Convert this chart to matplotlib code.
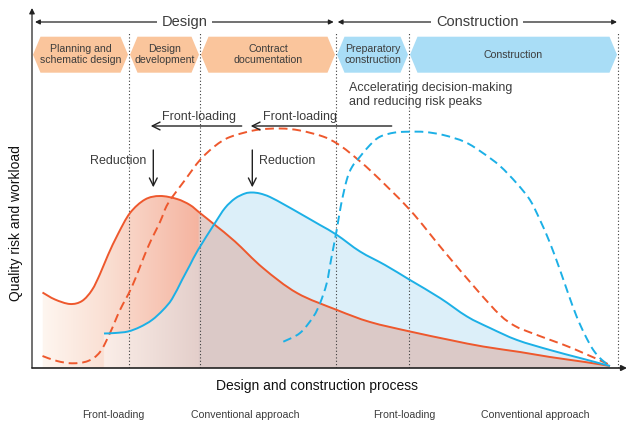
import matplotlib
matplotlib.use('Agg')
import matplotlib.pyplot as plt
import numpy as np
from matplotlib.patches import Polygon, PathPatch
from matplotlib.path import Path

plt.rcParams['font.family'] = ['Liberation Sans', 'DejaVu Sans']

# process position (x) and quality risk / workload level (y)
design_front_x = [10.5, 23, 38, 50, 60, 68, 76, 86, 98, 113, 128, 145, 158, 168, 183, 203,
                  231, 265, 305, 338, 378, 418, 451, 488, 518, 553, 578]
design_front_y = [75.5, 68.5, 64, 67, 78, 94, 113, 134, 155, 168.5, 172, 169, 163, 155, 143,
                  126.5, 100, 75, 58, 46, 36.5, 28, 21.5, 16, 11, 6, 2]

design_conv_x = [10.5, 25, 40, 56, 68, 78, 88, 100, 116, 128, 136, 153, 168, 183, 198, 224,
                 248, 268, 291, 305, 318, 341, 378, 411, 445, 468, 483, 501, 541, 578]
design_conv_y = [12, 7, 4.7, 7, 16, 35, 58, 81.5, 121, 146, 164.5, 188, 208, 222, 231, 238,
                 239.5, 237.5, 231.5, 224.5, 215, 195, 158, 118, 78, 53, 42, 34.5, 19.5, 3]

constr_front_x = [72, 83, 96, 108, 120, 131, 140, 150, 158, 166, 183, 193, 203, 213, 220, 228,
                  238, 253, 268, 288, 305, 328, 353, 378, 408, 435, 458, 485, 518, 548, 578]
constr_front_y = [34.5, 35, 36.5, 41, 48, 58, 69, 88, 103, 118, 145, 160, 169.5, 174.5, 175.5,
                  174.5, 171, 163, 154.5, 143, 133, 116.5, 103, 88, 70, 51.5, 40, 28, 18, 10, 2]

constr_conv_x = [251.3, 268, 281.3, 288, 294.7, 299, 304.7, 309, 314.7, 320, 328, 338, 348, 363,
                 378, 393, 411.3, 433, 451.3, 468, 484.7, 498, 508, 518, 528, 536, 544.7, 553,
                 561.3, 570, 578]
constr_conv_y = [26.3, 35, 51.3, 64.7, 84.7, 108, 138, 163, 188, 201, 211.3, 223, 231.3, 235.5,
                 236.3, 236, 233, 226, 214.7, 202, 184.7, 168, 148, 125, 98, 75, 51.3, 33, 18, 8, 2]

# phase boundaries along the process axis
phase_edges = [0, 97, 168, 304, 377, 586]
phase_names = ['Planning and\nschematic design', 'Design\ndevelopment', 'Contract\ndocumentation',
               'Preparatory\nconstruction', 'Construction']
phase_colors = ['#fac59c', '#fac59c', '#fac59c', '#a9ddf6', '#a9ddf6']

ORANGE = '#ee582d'
BLUE = '#1cb0e6'
GREY = '#3c3c3c'


def smooth_path(x, y):
    # bezier segments through the read points (catmull-rom tangents)
    p = np.column_stack([x, y]).astype(float)
    q = np.vstack([p[0], p, p[-1]])
    verts, codes = [p[0]], [Path.MOVETO]
    for i in range(1, len(q) - 2):
        c1 = q[i] + (q[i + 1] - q[i - 1]) / 6
        c2 = q[i + 1] - (q[i + 2] - q[i]) / 6
        verts += [c1, c2, q[i + 1]]
        codes += [Path.CURVE4] * 3
    return Path(verts, codes)


fig = plt.figure(figsize=(6.27, 4.25), dpi=100)
ax = fig.add_axes([32 / 627, 57 / 425, 595 / 627, 360 / 425])
ax.set_xlim(0, 595)
ax.set_ylim(0, 360)
ax.axis('off')

paths = {
    'df': smooth_path(design_front_x, design_front_y),
    'dc': smooth_path(design_conv_x, design_conv_y),
    'cf': smooth_path(constr_front_x, constr_front_y),
    'cc': smooth_path(constr_conv_x, constr_conv_y),
}

# shaded areas under the solid curves
xs = np.linspace(0, 595, 1190)
ys = np.linspace(0, 360, 720)
X, Y = np.meshgrid(xs, ys)
fo = paths['df'].to_polygons(closed_only=False)[0]
fb = paths['cf'].to_polygons(closed_only=False)[0]
top_o = np.interp(xs, fo[:, 0], fo[:, 1])
top_b = np.interp(xs, fb[:, 0], fb[:, 1])
in_o = (X >= design_front_x[0]) & (X <= design_front_x[-1]) & (Y <= top_o[None, :])
in_b = (X >= constr_front_x[0]) & (X <= constr_front_x[-1]) & (Y <= top_b[None, :])


def ramp(stops, cols):
    cols = np.array(cols, dtype=float) / 255
    return np.stack([np.interp(xs, stops, cols[:, k]) for k in range(3)], axis=1)


col_o = ramp([10.5, 72, 166, 168, 595],
             [(254, 246, 240), (250, 224, 212), (245, 180, 160), (226, 206, 202), (226, 206, 202)])
col_ob = ramp([72, 166, 168, 595],
              [(251, 238, 232), (228, 207, 203), (219, 201, 199), (219, 201, 199)])
col_b = np.array([220, 239, 250]) / 255

img = np.zeros((len(ys), len(xs), 4))
img[..., :3] = np.where(in_b[..., None], col_b, 1.0)
img[..., :3] = np.where(in_o[..., None], col_o[None, :, :], img[..., :3])
img[..., :3] = np.where((in_o & in_b)[..., None], col_ob[None, :, :], img[..., :3])
img[..., 3] = (in_o | in_b).astype(float)
ax.imshow(img, extent=(0, 595, 0, 360), origin='lower', aspect='auto', zorder=1,
          interpolation='bilinear')

# phase boundaries
for xe in phase_edges[1:]:
    ax.plot([xe, xe], [0, 336], color=GREY, lw=0.8, ls=(0, (1, 2)), zorder=2)

# curves
lw = 1.4
for key, col, ls in [('df', ORANGE, '-'), ('dc', ORANGE, (0, (4.5, 2.5))),
                     ('cf', BLUE, '-'), ('cc', BLUE, (0, (4.5, 2.5)))]:
    ax.add_patch(PathPatch(paths[key], fill=False, edgecolor=col, lw=lw, linestyle=ls,
                           capstyle='butt', zorder=4))

# axes with arrows
ax.annotate('', xy=(0, 360), xytext=(0, 0), annotation_clip=False,
            arrowprops=dict(arrowstyle='-|>', color='#222222', lw=0.9, mutation_scale=8,
                            shrinkA=0, shrinkB=0), zorder=5)
ax.annotate('', xy=(595, 0), xytext=(0, 0), annotation_clip=False,
            arrowprops=dict(arrowstyle='-|>', color='#222222', lw=1.2, mutation_scale=8,
                            shrinkA=0, shrinkB=0), zorder=5)

# phase boxes
top, bot, d = 331.3, 295.3, 7.5
for i, name in enumerate(phase_names):
    l, r = phase_edges[i] + 1, phase_edges[i + 1] - 1
    m = (top + bot) / 2
    ax.add_patch(Polygon([(l, m), (l + d, top), (r - d, top), (r, m), (r - d, bot), (l + d, bot)],
                         closed=True, facecolor=phase_colors[i], edgecolor='none', zorder=3))
    ax.text((l + r) / 2, m, name, ha='center', va='center', fontsize=7.6, color=GREY,
            linespacing=1.1, zorder=4)

# design / construction spans
for (a, b, label) in [(3, 301.7, 'Design'), (305.7, 585, 'Construction')]:
    ax.annotate('', xy=(a, 346), xytext=(b, 346), annotation_clip=False,
                arrowprops=dict(arrowstyle='<|-|>', color='#222222', lw=0.9, mutation_scale=7,
                                shrinkA=0, shrinkB=0))
    ax.text((a + b) / 2, 346, label, ha='center', va='center', fontsize=10.5, color=GREY,
            bbox=dict(facecolor='white', edgecolor='none', pad=3.5))

# front-loading arrows
for (a, b, xc) in [(209.7, 118.7, 167), (359.7, 218.7, 268.5)]:
    ax.annotate('', xy=(b, 242), xytext=(a, 242),
                arrowprops=dict(arrowstyle='->', color='#222222', lw=1.0, mutation_scale=14,
                                shrinkA=0, shrinkB=0), zorder=5)
    ax.text(xc, 245, 'Front-loading', ha='center', va='bottom', fontsize=9,
            color=GREY, zorder=5)

# reduction arrows
for xr, xt, ha in [(121.3, 114.7, 'right'), (220.3, 227.3, 'left')]:
    ax.annotate('', xy=(xr, 180.7), xytext=(xr, 218),
                arrowprops=dict(arrowstyle='->', color='#222222', lw=1.0, mutation_scale=14,
                                shrinkA=0, shrinkB=0), zorder=5)
    ax.text(xt, 207.3, 'Reduction', ha=ha, va='center', fontsize=9, color=GREY, zorder=5)

ax.text(317.3, 273, 'Accelerating decision-making\nand reducing risk peaks', ha='left',
        va='center', fontsize=9, color=GREY, linespacing=1.25, zorder=5)

fig.text(15.7 / 627, (425 - 223) / 425, 'Quality risk and workload', rotation=90,
         ha='center', va='center', fontsize=10, color='#111111')
fig.text(317 / 627, (425 - 386) / 425, 'Design and construction process',
         ha='center', va='center', fontsize=10, color='#111111')

for xc, lab in [(113, 'Front-loading'), (245, 'Conventional approach'),
                (404, 'Front-loading'), (535, 'Conventional approach')]:
    fig.text(xc / 627, (425 - 414.7) / 425, lab, ha='center', va='center', fontsize=7.6,
             color=GREY)

fig.savefig('out.png', dpi=100)
